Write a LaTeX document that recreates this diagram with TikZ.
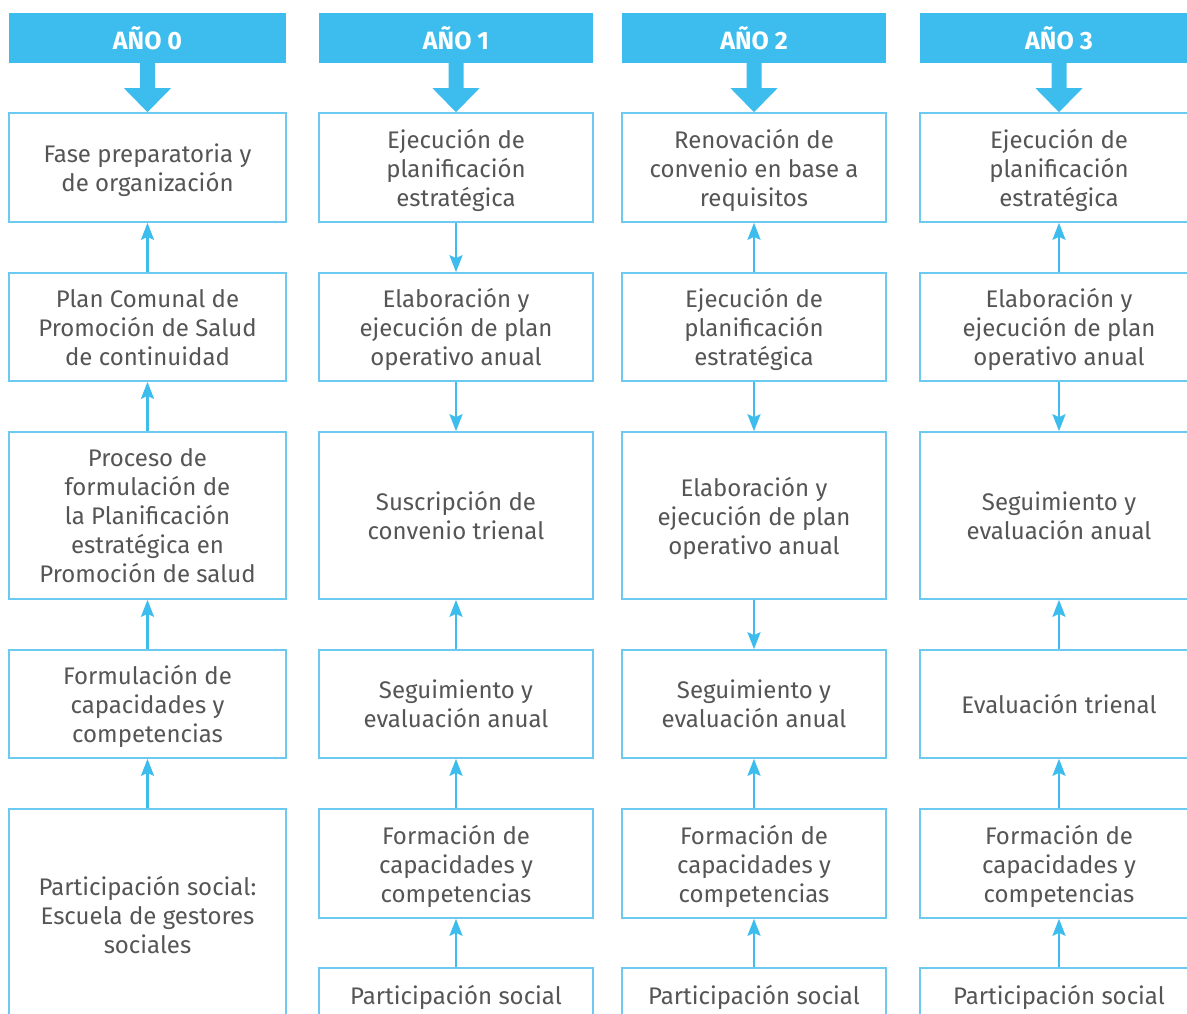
\documentclass[tikz,border=0pt]{standalone}
\usepackage{fontspec}
\setmainfont{Fira Sans}
\usetikzlibrary{arrows.meta}
\definecolor{hdr}{HTML}{3DBDEE}
\definecolor{brd}{HTML}{6CCAF0}
\definecolor{txt}{HTML}{555555}
\begin{document}
\begin{tikzpicture}[x=1pt,y=-1pt,
  box/.style={draw=brd, line width=1.6pt, align=center, text=txt,
    font=\fontsize{24}{29}\selectfont, inner sep=0pt, text depth=0pt},
  hdrbox/.style={fill=hdr, text=white, font=\fontsize{25}{29}\selectfont\bfseries, inner sep=0pt, minimum height=50},
  conn/.style={draw=hdr, line width=2.6pt, -{Stealth[length=17pt,width=13pt,inset=3pt]}},
  bigarrow/.style={fill=hdr}
]
\useasboundingbox (0,0) rectangle (1187,1013);
\clip (0,0) rectangle (1187,1013);

% headers
\node[hdrbox, minimum width=277] (h0) at (147.5,38) {AÑO 0};
\node[hdrbox, minimum width=274] (h1) at (456,38) {AÑO 1};
\node[hdrbox, minimum width=264] (h2) at (754,38) {AÑO 2};
\node[hdrbox, minimum width=278] (h3) at (1059,38) {AÑO 3};

\foreach \h in {h0,h1,h2,h3}{
  \fill[bigarrow, shift={(\h.south)}] (-7.5,0) -- (7.5,0) -- (7.5,25) -- (23.5,25) -- (0,49) -- (-23.5,25) -- (-7.5,25) -- cycle;
}

% column 0
\node[box, minimum width=277, minimum height=109] (a1) at (147.5,167.5) {Fase preparatoria y\\de organización};
\node[box, minimum width=277, minimum height=108] (a2) at (147.5,327) {Plan Comunal de\\Promoción de Salud\\de continuidad};
\node[box, minimum width=277, minimum height=167] (a3) at (147.5,515.5) {Proceso de\\formulación de\\la Planificación\\estratégica en\\Promoción de salud};
\node[box, minimum width=277, minimum height=108] (a4) at (147.5,704) {Formulación de\\capacidades y\\competencias};
\node[box, minimum width=277, minimum height=212] (a5) at (147.5,915) {Participación social:\\Escuela de gestores\\sociales};

% column 1
\node[box, minimum width=274, minimum height=109] (b1) at (456,167.5) {Ejecución de\\planificación\\estratégica};
\node[box, minimum width=274, minimum height=108] (b2) at (456,327) {Elaboración y\\ejecución de plan\\operativo anual};
\node[box, minimum width=274, minimum height=167] (b3) at (456,515.5) {Suscripción de\\convenio trienal};
\node[box, minimum width=274, minimum height=108] (b4) at (456,704) {Seguimiento y\\evaluación anual};
\node[box, minimum width=274, minimum height=109] (b5) at (456,863.5) {Formación de\\capacidades y\\competencias};
\node[box, minimum width=274, minimum height=54] (b6) at (456,995) {Participación social};

% column 2
\node[box, minimum width=264, minimum height=109] (c1) at (754,167.5) {Renovación de\\convenio en base a\\requisitos};
\node[box, minimum width=264, minimum height=108] (c2) at (754,327) {Ejecución de\\planificación\\estratégica};
\node[box, minimum width=264, minimum height=167] (c3) at (754,515.5) {Elaboración y\\ejecución de plan\\operativo anual};
\node[box, minimum width=264, minimum height=108] (c4) at (754,704) {Seguimiento y\\evaluación anual};
\node[box, minimum width=264, minimum height=109] (c5) at (754,863.5) {Formación de\\capacidades y\\competencias};
\node[box, minimum width=264, minimum height=54] (c6) at (754,995) {Participación social};

% column 3
\node[box, minimum width=278, minimum height=109] (d1) at (1059,167.5) {Ejecución de\\planificación\\estratégica};
\node[box, minimum width=278, minimum height=108] (d2) at (1059,327) {Elaboración y\\ejecución de plan\\operativo anual};
\node[box, minimum width=278, minimum height=167] (d3) at (1059,515.5) {Seguimiento y\\evaluación anual};
\node[box, minimum width=278, minimum height=108] (d4) at (1059,704) {Evaluación trienal};
\node[box, minimum width=278, minimum height=109] (d5) at (1059,863.5) {Formación de\\capacidades y\\competencias};
\node[box, minimum width=278, minimum height=54] (d6) at (1059,995) {Participación social};

% connectors column 0 (all upward)
\draw[conn] (a2.north) -- (a1.south);
\draw[conn] (a3.north) -- (a2.south);
\draw[conn] (a4.north) -- (a3.south);
\draw[conn] (a5.north) -- (a4.south);

% column 1
\draw[conn] (b1.south) -- (b2.north);
\draw[conn] (b2.south) -- (b3.north);
\draw[conn] (b4.north) -- (b3.south);
\draw[conn] (b5.north) -- (b4.south);
\draw[conn] (b6.north) -- (b5.south);

% column 2
\draw[conn] (c2.north) -- (c1.south);
\draw[conn] (c2.south) -- (c3.north);
\draw[conn] (c3.south) -- (c4.north);
\draw[conn] (c5.north) -- (c4.south);
\draw[conn] (c6.north) -- (c5.south);

% column 3
\draw[conn] (d2.north) -- (d1.south);
\draw[conn] (d2.south) -- (d3.north);
\draw[conn] (d4.north) -- (d3.south);
\draw[conn] (d5.north) -- (d4.south);
\draw[conn] (d6.north) -- (d5.south);
\end{tikzpicture}
\end{document}
